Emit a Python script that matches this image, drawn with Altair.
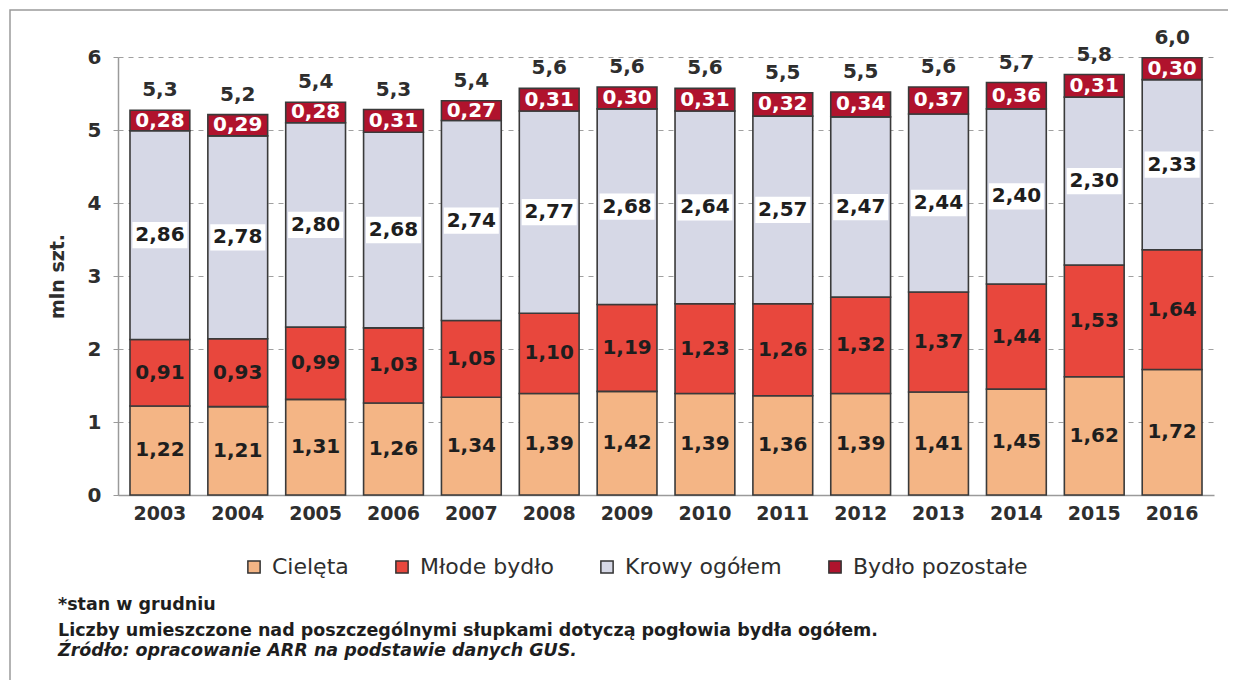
import altair as alt
import pandas as pd

years = [str(y) for y in range(2003, 2017)]
cieleta = [1.22, 1.21, 1.31, 1.26, 1.34, 1.39, 1.42, 1.39, 1.36, 1.39, 1.41, 1.45, 1.62, 1.72]
mlode = [0.91, 0.93, 0.99, 1.03, 1.05, 1.10, 1.19, 1.23, 1.26, 1.32, 1.37, 1.44, 1.53, 1.64]
krowy = [2.86, 2.78, 2.80, 2.68, 2.74, 2.77, 2.68, 2.64, 2.57, 2.47, 2.44, 2.40, 2.30, 2.33]
pozostale = [0.28, 0.29, 0.28, 0.31, 0.27, 0.31, 0.30, 0.31, 0.32, 0.34, 0.37, 0.36, 0.31, 0.30]
totals = [5.3, 5.2, 5.4, 5.3, 5.4, 5.6, 5.6, 5.6, 5.5, 5.5, 5.6, 5.7, 5.8, 6.0]
series_names = ["Cielęta", "Młode bydło", "Krowy ogółem", "Bydło pozostałe"]
colors = ["#F4B585", "#E8473D", "#D6D8E6", "#B0132D"]
footnotes = [
    "*stan w grudniu",
    "Liczby umieszczone nad poszczególnymi słupkami dotyczą pogłowia bydła ogółem.",
    "Źródło: opracowanie ARR na podstawie danych GUS.",
]

FONT = "DejaVu Sans"
DARK = "#2e2e2e"

rows = []
for i, yr in enumerate(years):
    for k, vals in enumerate([cieleta, mlode, krowy, pozostale]):
        v = vals[i]
        rows.append({
            "year": yr,
            "series": series_names[k],
            "ord": k,
            "value": v,
            "label": f"{v:.2f}".replace(".", ","),
            "total": f"{totals[i]:.1f}".replace(".", ","),
        })
df = pd.DataFrame(rows)

xenc = alt.X("year:N", title=None, sort=years,
             scale=alt.Scale(paddingInner=0.232, paddingOuter=0.154),
             axis=alt.Axis(labelAngle=0, labelFontSize=19, labelFontWeight="bold",
                           labelColor=DARK, labelFont=FONT, labelPadding=9,
                           ticks=False, domainColor="#9a9a9a", domainWidth=1.5))

base = alt.Chart(df).transform_stack(
    stack="value", as_=["y0", "y1"], groupby=["year"],
    sort=[alt.SortField("ord", order="ascending")]
).transform_calculate(mid="(datum.y0 + datum.y1) / 2")

yscale = alt.Scale(domain=[0, 6], nice=False)

bars = base.mark_bar(stroke="#3a3a3a", strokeWidth=1.6).encode(
    x=xenc,
    y=alt.Y("y0:Q", scale=yscale, title="mln szt.",
            axis=alt.Axis(values=[0, 1, 2, 3, 4, 5, 6], format="d", labelFontSize=20,
                          labelFontWeight="bold", labelColor=DARK, labelFont=FONT,
                          labelPadding=12, grid=True, gridDash=[5, 5], gridColor="#a0a0a0",
                          gridWidth=1.2, domainColor="#9a9a9a", domainWidth=1.5,
                          tickColor="#9a9a9a", tickSize=5, titleFontSize=19,
                          titleFontWeight="bold", titleColor=DARK, titleFont=FONT,
                          titlePadding=20)),
    y2="y1:Q",
    color=alt.Color("series:N", sort=series_names,
                    scale=alt.Scale(domain=series_names, range=colors),
                    legend=alt.Legend(title=None, orient="none", direction="horizontal",
                                      legendX=125, legendY=499, symbolType="square",
                                      symbolSize=150, symbolStrokeColor="#333333",
                                      symbolStrokeWidth=1.5, labelFontSize=22,
                                      labelFont=FONT, labelColor=DARK, labelLimit=400,
                                      labelOffset=7, columnPadding=42)),
    order=alt.Order("ord:Q"),
)

whitebox = base.transform_filter(alt.datum.series == "Krowy ogółem").transform_calculate(
    b0="datum.mid - 0.18", b1="datum.mid + 0.18"
).mark_bar(color="white", width={"band": 0.92}).encode(
    x=alt.X("year:N", sort=years), y=alt.Y("b0:Q", scale=yscale), y2="b1:Q"
)

seg_labels = base.mark_text(fontSize=20, fontWeight="bold", font=FONT, baseline="middle").encode(
    x=alt.X("year:N", sort=years),
    y=alt.Y("mid:Q", scale=yscale),
    text="label:N",
    color=alt.condition(alt.datum.series == "Bydło pozostałe", alt.value("white"), alt.value("#1e1e1e")),
)

total_labels = base.transform_filter(alt.datum.series == "Bydło pozostałe").mark_text(
    fontSize=20, fontWeight="bold", font=FONT, baseline="bottom", dy=-10, color=DARK
).encode(
    x=alt.X("year:N", sort=years),
    y=alt.Y("y1:Q", scale=yscale),
    text="total:N",
)

note_df = pd.DataFrame({"a": [0]})
notes = []
for j, t in enumerate(footnotes):
    notes.append(alt.Chart(note_df).mark_text(
        text=t, align="left", baseline="middle", fontSize=17.5, font=FONT, fontWeight="bold",
        color="#1e1e1e", fontStyle="italic" if j == 2 else "normal"
    ).encode(x=alt.value(-60), y=alt.value([548, 574, 594][j])))

frame = alt.Chart(note_df).mark_rect(fill=None, stroke="#9a9a9a", strokeWidth=1.5).encode(
    x=alt.value(-108), x2=alt.value(1114), y=alt.value(-47), y2=alt.value(640)
)

chart = alt.layer(frame, bars, whitebox, seg_labels, total_labels, *notes).properties(
    width=1096, height=438,
    padding={"left": 110, "top": 49, "right": 14, "bottom": 185},
    autosize=alt.AutoSizeParams(type="none"),
    background="white",
).configure_view(stroke=None)

chart.save("out.html", embed_options={"renderer": "svg", "actions": False})
